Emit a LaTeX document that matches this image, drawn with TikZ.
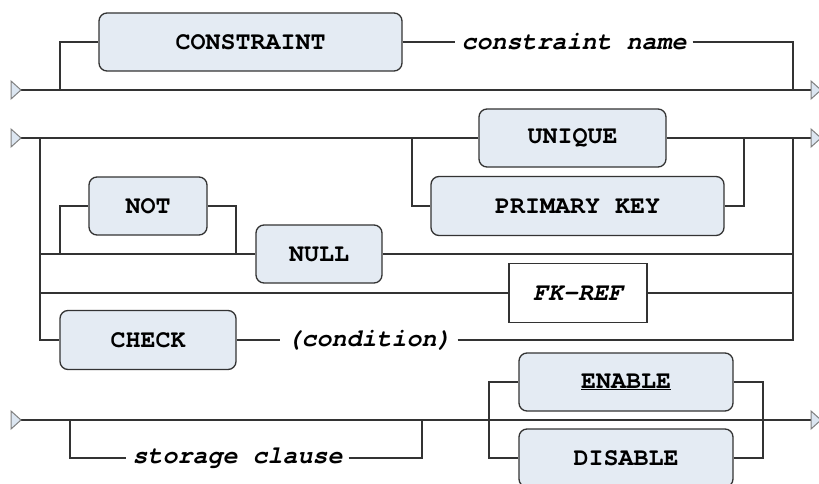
\documentclass[tikz,border=0pt]{standalone}
\usepackage{fontspec}
\setmonofont{TeX Gyre Cursor}
\usetikzlibrary{positioning, calc}
\definecolor{railline}{HTML}{333333}
\definecolor{railfill}{HTML}{E4EBF3}
\definecolor{railtip}{HTML}{DCE6F1}
\newcommand{\railin}[1]{\draw[tipmark] (#1) -- ++(-10,-9) -- ++(0,18) -- cycle;}
\newcommand{\railout}[1]{\draw[tipmark] (#1) ++(0,-9) -- ++(10,9) -- ++(-10,9) -- cycle;}

\begin{document}
\begin{tikzpicture}[
    x=1pt, y=-1pt,
    kw/.style={
      rectangle, rounded corners=8pt, draw=railline, line width=1.3pt,
      fill=railfill, text=black, inner sep=0pt,
      font=\fontsize{25}{29}\selectfont\ttfamily\bfseries
    },
    ref/.style={
      rectangle, draw=railline, line width=1.3pt, fill=white, inner sep=0pt,
      minimum width=138pt, minimum height=59pt,
      font=\fontsize{25}{29}\selectfont\ttfamily\bfseries\itshape
    },
    arg/.style={inner xsep=6pt, inner ysep=2pt, font=\fontsize{25}{29}\selectfont\ttfamily\bfseries\itshape},
    rail/.style={draw=railline, line width=1.3pt},
    tipmark/.style={draw=gray, fill=railtip, line width=1pt, line join=miter},
  ]
  \useasboundingbox (0,0) rectangle (819,484);

  \coordinate (s1) at (21,90);
  \coordinate (e1) at (811,90);
  \coordinate (b1) at (60,90);
  \coordinate (j1) at (793,90);
  \node[kw, minimum width=303pt, minimum height=58pt] (cons) at (250.5,42) {CONSTRAINT};
  \node[arg] (cname) at (574,42) {constraint name};

  \draw[rail] (s1) -- (e1);
  \draw[rail] (b1) |- (cons.west);
  \draw[rail] (cons.east) -- (cname.west);
  \draw[rail] (cname.east) -| (j1);
  \railin{s1}
  \railout{e1}

  \coordinate (s2) at (21,138);
  \coordinate (e2) at (811,138);
  \coordinate (b2) at (40,138);
  \coordinate (j2) at (793,138);
  \coordinate (pkl) at (412,138);
  \coordinate (pkr) at (744,138);
  \coordinate (nb) at (60,254);
  \coordinate (nr) at (236,254);
  \node[kw, minimum width=187pt, minimum height=58pt] (uniq) at (572.5,138) {UNIQUE};
  \node[kw, minimum width=293pt, minimum height=59pt] (pk) at (577.5,206) {PRIMARY KEY};
  \node[kw, minimum width=118pt, minimum height=58pt] (not) at (148,206) {NOT};
  \node[kw, minimum width=126pt, minimum height=58pt] (null) at (319,254) {NULL};
  \node[ref] (fk) at (578,293) {FK-REF};
  \node[kw, minimum width=176pt, minimum height=59pt] (check) at (148,340) {CHECK};
  \node[arg] (cond) at (369,340) {(condition)};

  \draw[rail] (s2) -- (uniq.west);
  \draw[rail] (uniq.east) -- (e2);
  \draw[rail] (pkl) |- (pk.west);
  \draw[rail] (pk.east) -| (pkr);
  \draw[rail] (b2) |- (check.west);
  \draw[rail] (b2) |- (null.west);
  \draw[rail] (b2) |- (fk.west);
  \draw[rail] (nb) |- (not.west);
  \draw[rail] (not.east) -| (nr);
  \draw[rail] (null.east) -| (j2);
  \draw[rail] (fk.east) -| (j2);
  \draw[rail] (check.east) -- (cond.west);
  \draw[rail] (cond.east) -| (j2);
  \railin{s2}
  \railout{e2}

  \coordinate (s3) at (21,420);
  \coordinate (e3) at (811,420);
  \coordinate (sl) at (70,420);
  \coordinate (sr) at (422,420);
  \coordinate (el) at (489,420);
  \coordinate (er) at (763,420);
  \node[arg] (stor) at (237.5,458) {storage clause};
  \node[kw, minimum width=214pt, minimum height=58pt] (enab) at (626,382) {\underline{ENABLE}};
  \node[kw, minimum width=214pt, minimum height=58pt] (disab) at (626,458) {DISABLE};

  \draw[rail] (s3) -- (e3);
  \draw[rail] (sl) |- (stor.west);
  \draw[rail] (stor.east) -| (sr);
  \draw[rail] (el) |- (enab.west);
  \draw[rail] (el) |- (disab.west);
  \draw[rail] (enab.east) -| (er);
  \draw[rail] (disab.east) -| (er);
  \railin{s3}
  \railout{e3}
\end{tikzpicture}
\end{document}
